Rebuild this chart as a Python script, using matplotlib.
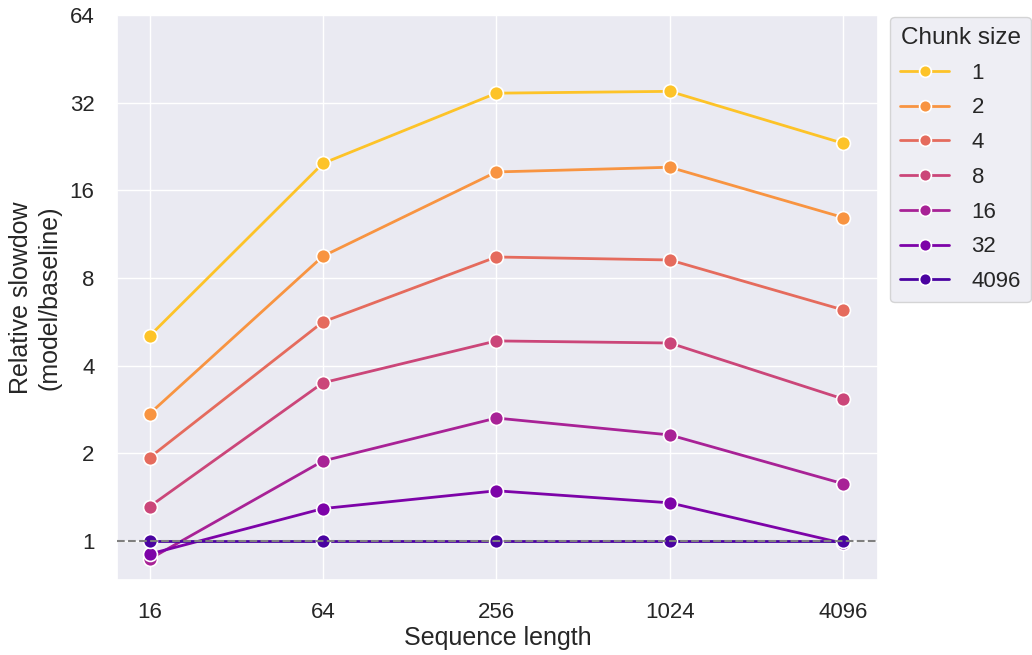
import matplotlib
matplotlib.use("Agg")
import matplotlib.pyplot as plt
import matplotlib.ticker as mticker
import seaborn as sns

# sequence lengths on the x axis
seq_len = [16, 64, 256, 1024, 4096]
chunk_sizes = ["1", "2", "4", "8", "16", "32", "4096"]

# relative slowdown, one list per chunk size
slow_1 = [5.05, 19.8, 34.5, 35.0, 23.2]
slow_2 = [2.73, 9.5, 18.5, 19.2, 12.9]
slow_4 = [1.93, 5.65, 9.44, 9.22, 6.21]
slow_8 = [1.31, 3.49, 4.86, 4.78, 3.07]
slow_16 = [0.865, 1.88, 2.64, 2.31, 1.57]
slow_32 = [0.90, 1.29, 1.485, 1.35, 0.98]
slow_4096 = [1.0, 1.0, 1.0, 1.0, 1.0]
series = [slow_1, slow_2, slow_4, slow_8, slow_16, slow_32, slow_4096]

y_ticks = [1, 2, 4, 8, 16, 32, 64]

sns.set_theme(style="darkgrid")
plt.rcParams['font.family'] = ['Liberation Sans', 'DejaVu Sans']

colors = sns.color_palette("plasma_r", len(chunk_sizes))

fig = plt.figure(figsize=(10.32, 6.55), dpi=100)
ax = fig.add_axes([0.113, 0.115, 0.738, 0.862])

for lab, vals, c in zip(chunk_sizes, series, colors):
    ax.plot(seq_len, vals, color=c, lw=2, marker='o', markersize=10,
            markeredgecolor='white', markeredgewidth=1.2, label=lab)

ax.axhline(1, color='gray', ls='--', lw=1.5, zorder=5)

ax.set_xscale('log', base=2)
ax.set_yscale('log', base=2)
ax.set_xlim(12.3, 5418)
ax.set_ylim(0.735, 64)
ax.set_xticks(seq_len)
ax.set_yticks(y_ticks)
ax.xaxis.set_major_formatter(mticker.FuncFormatter(lambda v, p: f"{int(round(v))}"))
ax.yaxis.set_major_formatter(mticker.FuncFormatter(lambda v, p: f"{int(round(v))}"))
ax.xaxis.set_minor_locator(mticker.NullLocator())
ax.yaxis.set_minor_locator(mticker.NullLocator())
ax.tick_params(labelsize=16, colors='#262626', pad=10)

ax.set_xlabel('Sequence length', fontsize=18, labelpad=2)
ax.set_ylabel('Relative slowdow\n(model/baseline)', fontsize=18, labelpad=6)

leg = ax.legend(title='Chunk size', loc='upper left', bbox_to_anchor=(1.016, 0.997),
                fontsize=16, title_fontsize=17.5, borderaxespad=0.0,
                handlelength=2.2, labelspacing=0.62, markerscale=0.85,
                handletextpad=1.0, borderpad=0.45)

plt.savefig('out.png', dpi=100)
